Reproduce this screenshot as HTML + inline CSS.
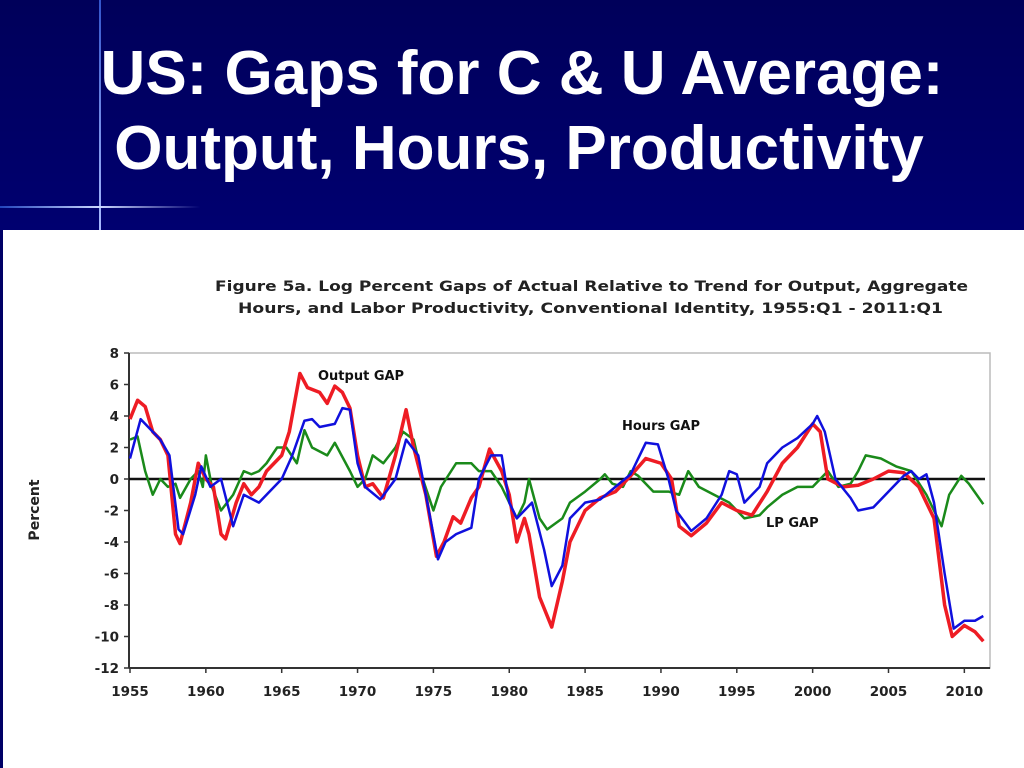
<!DOCTYPE html>
<html><head><meta charset="utf-8"><style>
body{margin:0;width:1024px;height:768px;overflow:hidden;background:#000066;font-family:"Liberation Sans",Arial,sans-serif}
.hdr{position:absolute;left:0;top:0;width:1024px;height:230px;background:linear-gradient(#00005a,#000070)}
.t{position:absolute;left:0;width:1044px;text-align:center;color:#fff;font-weight:bold;font-size:62px;white-space:nowrap}
</style></head><body>
<div class="hdr"></div>
<div style="position:absolute;left:99px;top:0;width:2px;height:232px;background:linear-gradient(#3355cc,#aabbff)"></div>
<div style="position:absolute;left:0;top:206px;width:200px;height:2px;background:linear-gradient(90deg,#2244bb,#ccd8ff 50%,#000070)"></div>
<div class="t" style="top:38px">US: Gaps for C &amp; U Average:</div>
<div class="t" style="top:113px;width:1038px">Output, Hours, Productivity</div>
<svg width="1024" height="768" style="position:absolute;left:0;top:0">
<rect x="3" y="230" width="1021" height="538" fill="#fff"/>
<g font-family="DejaVu Sans,Verdana,sans-serif" font-weight="bold" fill="#222">
<text x="215" y="291" font-size="14.5" textLength="753" lengthAdjust="spacingAndGlyphs">Figure 5a. Log Percent Gaps of Actual Relative to Trend for Output,  Aggregate</text>
<text x="238" y="313" font-size="14.5" textLength="705" lengthAdjust="spacingAndGlyphs">Hours, and Labor Productivity, Conventional Identity, 1955:Q1 - 2011:Q1</text>
<text transform="translate(39,510) rotate(-90)" font-size="14" text-anchor="middle">Percent</text>
</g>
<g id="plot"></g>
</svg>
<script>
const yTicks=[8,6,4,2,0,-2,-4,-6,-8,-10,-12];
const xTicks=[1955,1960,1965,1970,1975,1980,1985,1990,1995,2000,2005,2010];
const outputYears=[1955,1955.5,1956,1956.5,1957,1957.5,1958,1958.3,1959,1959.5,1960,1960.5,1961,1961.3,1962,1962.5,1963,1963.5,1964,1965,1965.5,1966.2,1966.7,1967.5,1968,1968.5,1969,1969.5,1970,1970.5,1971,1971.7,1972.5,1973.2,1973.7,1974.5,1975.2,1975.7,1976.3,1976.8,1977.5,1978,1978.7,1979.5,1980,1980.5,1981,1981.3,1982,1982.8,1983.5,1984,1985,1986,1987,1988,1989,1990,1990.7,1991.2,1992,1993,1994,1995,1996,1997,1998,1999,2000,2000.5,2001,2002,2003,2004,2005,2006,2007,2008,2008.7,2009.2,2010,2010.7,2011.25];
const outputVals=[3.8,5,4.6,3,2.5,1.5,-3.5,-4.1,-1.5,1,0,-0.5,-3.5,-3.8,-1.5,-0.3,-1,-0.5,0.5,1.5,3,6.7,5.8,5.5,4.8,5.9,5.5,4.5,1.5,-0.5,-0.3,-1.2,1.5,4.4,2,-1,-4.9,-4,-2.4,-2.8,-1.2,-0.5,1.9,0.5,-1,-4,-2.5,-3.5,-7.5,-9.4,-6.5,-4,-2,-1.2,-0.8,0.2,1.3,1,0,-3,-3.6,-2.8,-1.5,-2,-2.3,-0.8,1,2,3.5,3,0,-0.5,-0.4,0,0.5,0.4,-0.5,-2.5,-8,-10,-9.3,-9.7,-10.3];
const hoursYears=[1955,1955.7,1956.5,1957,1957.6,1958.2,1958.5,1959.3,1959.7,1960.3,1961,1961.8,1962.5,1963.5,1964.5,1965,1965.7,1966.5,1967,1967.5,1968.5,1969,1969.5,1970,1970.5,1971.5,1972.5,1973.2,1974,1974.7,1975.3,1975.8,1976.5,1977.5,1978,1978.8,1979.5,1980,1980.5,1981.5,1982.3,1982.8,1983.5,1984,1985,1986,1987,1988,1989,1989.8,1990.5,1991,1992,1993,1994,1994.5,1995,1995.5,1996.5,1997,1998,1999,2000,2000.3,2000.8,2001.5,2002.5,2003,2004,2005,2006,2006.5,2007,2007.5,2008,2008.7,2009.3,2010,2010.7,2011.25];
const hoursVals=[1.3,3.8,3,2.5,1.5,-3.2,-3.5,-1,0.8,-0.5,0,-3,-1,-1.5,-0.5,0,1.5,3.7,3.8,3.3,3.5,4.5,4.4,1,-0.5,-1.3,0,2.5,1.5,-2,-5.1,-4,-3.5,-3.1,0,1.5,1.5,-1.5,-2.5,-1.5,-4.5,-6.8,-5.5,-2.5,-1.5,-1.3,-0.5,0.3,2.3,2.2,0,-2,-3.3,-2.5,-1,0.5,0.3,-1.5,-0.5,1,2,2.6,3.5,4,3,0,-1.2,-2,-1.8,-0.8,0.2,0.5,0,0.3,-1.5,-6,-9.5,-9,-9,-8.7];
const lpYears=[1955,1955.5,1956,1956.5,1957,1957.5,1958,1958.3,1959,1959.5,1959.8,1960,1960.4,1961,1961.8,1962.5,1963,1963.5,1964,1964.7,1965.3,1966,1966.5,1967,1968,1968.5,1969.5,1970,1970.5,1971,1971.7,1972.5,1973,1973.7,1974.3,1975,1975.5,1976.5,1977.5,1978,1978.8,1979.5,1980,1980.5,1981,1981.3,1982,1982.5,1983.5,1984,1985,1986,1986.3,1986.8,1987.5,1988,1988.5,1989.5,1990.5,1991.2,1991.8,1992.5,1993.5,1994.5,1995.5,1996.5,1997,1998,1999,2000,2001,2001.7,2002.5,2003,2003.5,2004.5,2005.5,2006.5,2007.5,2008.5,2009,2009.8,2010.3,2011.25];
const lpVals=[2.5,2.7,0.5,-1,0,-0.5,-0.3,-1.2,0,0.5,-0.5,1.5,-0.5,-2,-1,0.5,0.3,0.5,1,2,2,1,3.1,2,1.5,2.3,0.5,-0.5,0,1.5,1,2,3,2.5,0,-2,-0.5,1,1,0.5,0.5,-0.5,-1.5,-2.5,-1.5,0,-2.5,-3.2,-2.5,-1.5,-0.8,0,0.3,-0.3,-0.5,0.5,0.2,-0.8,-0.8,-1,0.5,-0.5,-1,-1.5,-2.5,-2.3,-1.8,-1,-0.5,-0.5,0.5,-0.5,-0.3,0.5,1.5,1.3,0.8,0.5,-1,-3,-1,0.2,-0.3,-1.6];
const L=129,R=990,T=353,B=668;
const xs=y=>130+(y-1955)*15.17;
const ys=v=>T+(8-v)*(B-T)/20;
const NS='http://www.w3.org/2000/svg';
const FF='DejaVu Sans,Verdana,sans-serif';
const g=document.getElementById('plot');
function mk(t,a,name){const e=document.createElementNS(NS,t);for(const k in a)e.setAttribute(k,a[k]);


g.appendChild(e);return e;}
mk('rect',{x:L,y:T,width:R-L,height:B-T,fill:'none',stroke:'#bbb','stroke-width':1.5},'plot-frame');
mk('line',{x1:L,y1:T,x2:L,y2:B,stroke:'#333','stroke-width':2},'y-axis');
mk('line',{x1:L,y1:B,x2:R,y2:B,stroke:'#333','stroke-width':2},'x-axis');
yTicks.forEach(v=>{mk('line',{x1:L-5,y1:ys(v),x2:L,y2:ys(v),stroke:'#333','stroke-width':1.5},'y-tick');
const t=mk('text',{x:L-10,y:ys(v)+5,'text-anchor':'end','font-size':13.5,'font-weight':'bold','font-family':FF,fill:'#222'},'y-tick-label');t.textContent=v;});
xTicks.forEach(v=>{mk('line',{x1:xs(v),y1:B,x2:xs(v),y2:B+5,stroke:'#333','stroke-width':1.5},'x-tick');
const t=mk('text',{x:xs(v),y:B+28,'text-anchor':'middle','font-size':13.5,'font-weight':'bold','font-family':FF,fill:'#222'},'x-tick-label');t.textContent=v;});
mk('line',{x1:L,y1:ys(0),x2:R-5,y2:ys(0),stroke:'#111','stroke-width':2.5},'zero-line');
function series(xa,va,col,w,name){mk('polyline',{points:xa.map((x,i)=>xs(x)+','+ys(va[i])).join(' '),fill:'none',stroke:col,'stroke-width':w,'stroke-linejoin':'round'},name);}
series(lpYears,lpVals,'#1a8a1a',2.5,'lp-gap-line');
series(outputYears,outputVals,'#ee1c24',3.5,'output-gap-line');
series(hoursYears,hoursVals,'#1010dd',2.5,'hours-gap-line');
[['Output GAP',318,380,'output-gap-label'],['Hours GAP',622,430,'hours-gap-label'],['LP GAP',766,527,'lp-gap-label']].forEach(a=>{
const t=mk('text',{x:a[1],y:a[2],'font-size':13,'font-weight':'bold','font-family':FF,fill:'#111'},a[3]);t.textContent=a[0];});
</script>
</body></html>
